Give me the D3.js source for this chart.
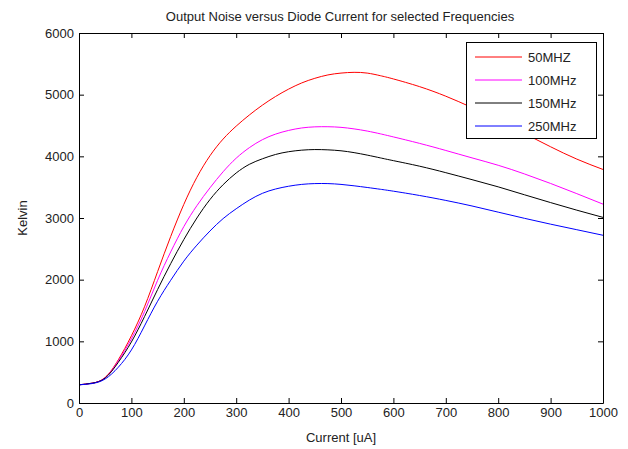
<!DOCTYPE html>
<html>
<head>
<meta charset="utf-8">
<script src="https://cdn.jsdelivr.net/npm/d3@7/dist/d3.min.js"></script>
<style>
  body { margin: 0; background: #fff; }
  svg text { font-family: "Liberation Sans", Arial, sans-serif; fill: #222; }
</style>
</head>
<body>
<div id="chart"></div>
<script>
// current in uA
const current = [0, 25, 50, 75, 100, 125, 150, 175, 200, 225, 250, 275, 300, 325, 350, 375, 400, 425, 450, 475, 500, 525, 550, 575, 600,
  650, 700, 750, 800, 850, 900, 950, 1000];

// noise temperature in Kelvin, one array per frequency
const k50 = [295, 320, 415, 700, 1090, 1560, 2130, 2700, 3220, 3660, 4010, 4280, 4490, 4670, 4830, 4970, 5090, 5190, 5265, 5320, 5350, 5362, 5350, 5308, 5255,
  5130, 4975, 4790, 4585, 4370, 4155, 3955, 3787];
const k100 = [295, 322, 410, 680, 1040, 1480, 1990, 2450, 2860, 3200, 3490, 3750, 3970, 4140, 4270, 4360, 4420, 4460, 4478, 4480, 4470, 4445, 4410, 4365, 4315,
  4210, 4095, 3975, 3855, 3715, 3560, 3395, 3225];
const k150 = [295, 322, 405, 660, 990, 1400, 1840, 2260, 2650, 3000, 3300, 3540, 3730, 3870, 3960, 4030, 4075, 4100, 4110, 4105, 4090, 4060, 4020, 3975, 3930,
  3840, 3735, 3622, 3505, 3377, 3250, 3127, 3010];
const k250 = [295, 315, 390, 580, 860, 1250, 1650, 1990, 2300, 2560, 2790, 2990, 3150, 3290, 3400, 3470, 3515, 3545, 3558, 3558, 3545, 3522, 3495, 3466, 3435,
  3365, 3285, 3195, 3095, 2995, 2900, 2810, 2720];

const seriesNames = ['50MHZ', '100MHz', '150MHz', '250MHz'];
const seriesColors = ['#ff0000', '#ff00ff', '#000000', '#0000ff'];
const xTicks = [0, 100, 200, 300, 400, 500, 600, 700, 800, 900, 1000];
const yTicks = [0, 1000, 2000, 3000, 4000, 5000, 6000];

const W = 628, H = 449;
const margin = {left: 79, right: 25, top: 33, bottom: 46};

const svg = d3.select('#chart').append('svg')
  .attr('width', W)
  .attr('height', H);

const x = d3.scaleLinear().domain([0, 1000]).range([margin.left, W - margin.right]);
const y = d3.scaleLinear().domain([0, 6000]).range([H - margin.bottom, margin.top]);

const series = [k50, k100, k150, k250].map((vals, i) => ({
  name: seriesNames[i],
  color: seriesColors[i],
  values: vals.map((v, j) => ({c: current[j], k: v}))
}));

const line = d3.line()
  .x(d => x(d.c))
  .y(d => y(d.k))
  .curve(d3.curveNatural);

svg.append('g')
  .selectAll('path')
  .data(series)
  .enter()
  .append('path')
  .attr('fill', 'none')
  .attr('stroke', d => d.color)
  .attr('stroke-width', 1)
  .attr('d', d => line(d.values));

// axes, ticks pointing inward like matlab
const fmt = d3.format('d');
const styleAxis = g => {
  g.selectAll('.domain').attr('stroke', '#000').attr('fill', 'none');
  g.selectAll('.tick line').attr('stroke', '#000');
  g.selectAll('.tick text')
    .style('font-size', '13px')
    .attr('fill', '#222');
};

svg.append('g')
  .attr('transform', `translate(0,${y(0)})`)
  .call(d3.axisBottom(x).tickValues(xTicks).tickFormat(fmt).tickSizeInner(-5).tickSizeOuter(0).tickPadding(5))
  .call(styleAxis);

svg.append('g')
  .attr('transform', `translate(0,${y(6000)})`)
  .call(d3.axisTop(x).tickValues(xTicks).tickSizeInner(-5).tickSizeOuter(0).tickFormat(''))
  .call(styleAxis);

svg.append('g')
  .attr('transform', `translate(${x(0)},0)`)
  .call(d3.axisLeft(y).tickValues(yTicks).tickFormat(fmt).tickSizeInner(-5).tickSizeOuter(0).tickPadding(5))
  .call(styleAxis);

svg.append('g')
  .attr('transform', `translate(${x(1000)},0)`)
  .call(d3.axisRight(y).tickValues(yTicks).tickSizeInner(-5).tickSizeOuter(0).tickFormat(''))
  .call(styleAxis);

// titles
svg.append('text')
  .attr('x', 340)
  .attr('y', 21)
  .attr('text-anchor', 'middle')
  .style('font-size', '13px')
  .text('Output Noise versus Diode Current for selected Frequencies');

svg.append('text')
  .attr('x', (x(0) + x(1000)) / 2)
  .attr('y', 442)
  .attr('text-anchor', 'middle')
  .style('font-size', '13px')
  .text('Current [uA]');

svg.append('text')
  .attr('transform', `translate(27,${(y(0) + y(6000)) / 2}) rotate(-90)`)
  .attr('text-anchor', 'middle')
  .style('font-size', '13px')
  .text('Kelvin');

// legend
const legend = svg.append('g');
legend.append('rect')
  .attr('x', 466.5)
  .attr('y', 42.5)
  .attr('width', 130)
  .attr('height', 96)
  .attr('fill', '#fff')
  .attr('stroke', '#000');

const item = legend.selectAll('g.item')
  .data(series)
  .enter()
  .append('g')
  .attr('class', 'item')
  .attr('transform', (d, i) => `translate(0,${57 + i * 23})`);

item.append('line')
  .attr('x1', 475)
  .attr('x2', 522)
  .attr('stroke', d => d.color);

item.append('text')
  .attr('x', 528)
  .attr('dy', '0.35em')
  .style('font-size', '13px')
  .text(d => d.name);
</script>
</body>
</html>
